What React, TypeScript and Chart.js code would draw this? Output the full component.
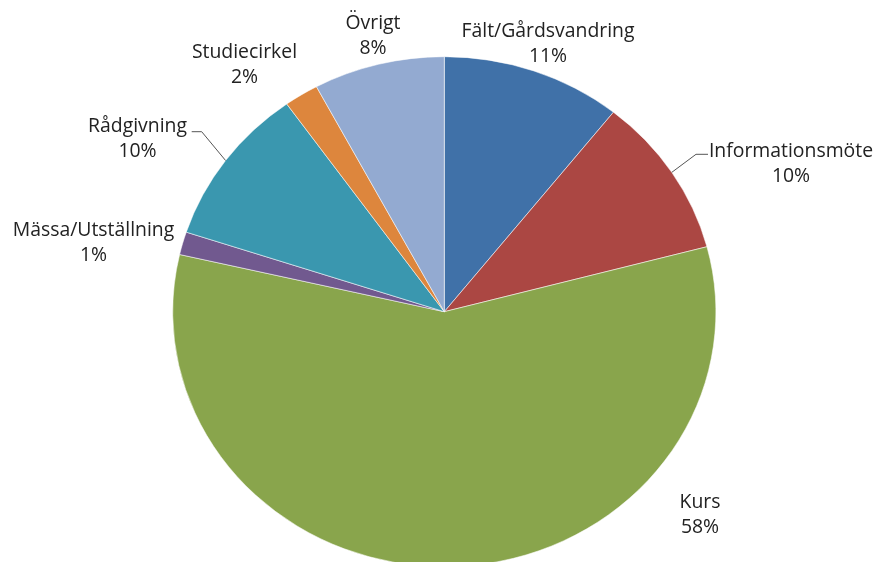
import React, { useEffect, useRef } from "react";
import { Chart, registerables } from "chart.js";

Chart.register(...registerables);

// ---- data ----
const categories = [
  "Fält/Gårdsvandring",
  "Informationsmöte",
  "Kurs",
  "Mässa/Utställning",
  "Rådgivning",
  "Studiecirkel",
  "Övrigt",
];
const shares = [10.7, 10.2, 57.7, 1.45, 10.1, 2.05, 7.8];
const percentLabels = ["11%", "10%", "58%", "1%", "10%", "2%", "8%"];

// ---- style / layout ----
const sliceColors = ["#4071A8", "#AB4743", "#89A54C", "#71598F", "#3A97AF", "#DD863D", "#93AAD1"];
const Y_RATIO = 0.939; // reference pie is slightly squashed vertically
const FONT = '19.4px "Open Sans", "Noto Sans", sans-serif';
const LINE_GAP = 25.5;
type Layout = { x: number; y: number; leader?: [number, number][] };
const labelLayout: Layout[] = [
  { x: 548, y: 31 },
  { x: 791, y: 151, leader: [[708, 154.3], [696, 154.3]] },
  { x: 700, y: 502 },
  { x: 93.5, y: 230 },
  { x: 137.5, y: 126, leader: [[191.7, 131.7], [201.7, 131.7]] },
  { x: 244.5, y: 52 },
  { x: 373, y: 23 },
];

const ellipsePlugin = {
  id: "ellipse",
  beforeDatasetsDraw(chart: any) {
    const arc = chart.getDatasetMeta(0).data[0];
    const ctx = chart.ctx;
    ctx.save();
    ctx.translate(0, arc.y);
    ctx.scale(1, Y_RATIO);
    ctx.translate(0, -arc.y);
  },
  afterDatasetsDraw(chart: any) {
    chart.ctx.restore();
  },
};

const labelPlugin = {
  id: "sliceLabels",
  afterDraw(chart: any) {
    const ctx = chart.ctx;
    const arcs = chart.getDatasetMeta(0).data;
    ctx.save();
    ctx.font = FONT;
    ctx.fillStyle = "#222222";
    ctx.textAlign = "center";
    ctx.textBaseline = "middle";
    arcs.forEach((arc: any, i: number) => {
      const L = labelLayout[i];
      if (L.leader) {
        const mid = (arc.startAngle + arc.endAngle) / 2;
        const px = arc.x + arc.outerRadius * Math.cos(mid);
        const py = arc.y + arc.outerRadius * Math.sin(mid) * Y_RATIO;
        ctx.strokeStyle = "#555555";
        ctx.lineWidth = 1;
        ctx.beginPath();
        ctx.moveTo(L.leader[0][0], L.leader[0][1]);
        ctx.lineTo(L.leader[1][0], L.leader[1][1]);
        ctx.lineTo(px, py);
        ctx.stroke();
      }
      ctx.fillText(categories[i], L.x, L.y);
      ctx.fillText(percentLabels[i], L.x, L.y + LINE_GAP);
    });
    ctx.restore();
  },
};

export default function App() {
  const ref = useRef<HTMLCanvasElement | null>(null);
  useEffect(() => {
    if (!ref.current) return;
    const chart = new Chart(ref.current, {
      type: "pie",
      data: {
        labels: categories,
        datasets: [
          {
            data: shares,
            backgroundColor: sliceColors,
            borderColor: "rgba(255,255,255,0.55)",
            borderWidth: 1,
            radius: 271.6,
            clip: false,
          } as any,
        ],
      },
      options: {
        responsive: false,
        devicePixelRatio: 1,
        animation: false,
        layout: { padding: { left: 15.6, right: 0, top: 61.4, bottom: 0 } },
        plugins: { legend: { display: false }, tooltip: { enabled: false } },
      },
      plugins: [ellipsePlugin, labelPlugin],
    });
    return () => chart.destroy();
  }, []);
  return (
    <div style={{ position: "fixed", left: 0, top: 0, width: 873, height: 562, background: "#fff", overflow: "hidden" }}>
      <canvas ref={ref} width={873} height={562} style={{ display: "block" }} />
    </div>
  );
}
